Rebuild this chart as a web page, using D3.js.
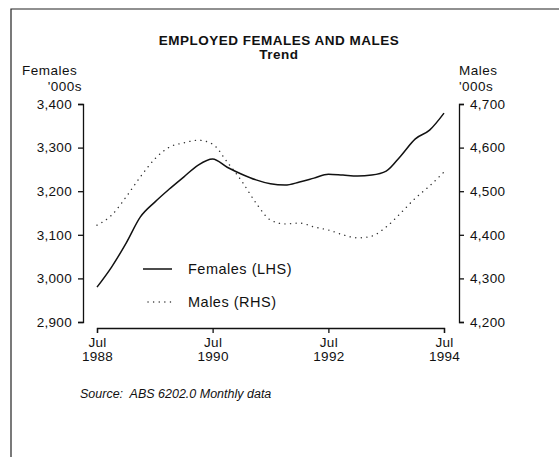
<!DOCTYPE html>
<html>
<head>
<meta charset="utf-8">
<script src="https://cdn.jsdelivr.net/npm/d3@7"></script>
<style>
  body { margin: 0; background: #fff; }
  text { font-family: "Liberation Sans", Arial, sans-serif; fill: #111; }
</style>
</head>
<body>
<svg id="chart" width="559" height="457"></svg>
<script>
// quarterly trend estimates, Jul 1988 .. Jul 1994 ('000s)
var quarters = d3.range(25).map(function(n){ return new Date(1988, 6 + n * 3, 1); });
var females = [2980, 3026, 3081, 3141, 3175, 3205, 3233, 3260, 3274, 3255, 3239, 3226, 3217,
               3214, 3221, 3230, 3239, 3237, 3235, 3237, 3246, 3281, 3320, 3340, 3379];
var males = [4422, 4445, 4487, 4533, 4574, 4601, 4611, 4617, 4608, 4567, 4523, 4473, 4434,
             4425, 4427, 4418, 4411, 4400, 4393, 4397, 4418, 4450, 4484, 4512, 4544];
var leftTicks = [2900, 3000, 3100, 3200, 3300, 3400];
var rightTicks = [4200, 4300, 4400, 4500, 4600, 4700];
var xTicks = [new Date(1988, 6, 1), new Date(1990, 6, 1), new Date(1992, 6, 1), new Date(1994, 6, 1)];

function drawChart() {
    var svg = d3.select("#chart");
    var fmt = d3.format(",");

    var x = d3.scaleTime()
        .domain([xTicks[0], xTicks[3]])
        .range([97, 444]);
    var yL = d3.scaleLinear().domain([2900, 3400]).range([322, 104]);
    var yR = d3.scaleLinear().domain([4200, 4700]).range([322, 104]);

    // scanned frame
    svg.append("path")
        .attr("d", "M11,457 L11,9 L559,9")
        .attr("fill", "none")
        .attr("stroke", "#222")
        .attr("stroke-width", 1.2);

    svg.append("text").attr("x", 279).attr("y", 45)
        .attr("text-anchor", "middle").attr("font-size", 13.5).attr("font-weight", "bold")
        .attr("letter-spacing", 0.5)
        .text("EMPLOYED FEMALES AND MALES");
    svg.append("text").attr("x", 279).attr("y", 59)
        .attr("text-anchor", "middle").attr("font-size", 13.5).attr("font-weight", "bold")
        .attr("letter-spacing", 0.5)
        .text("Trend");

    svg.append("text").attr("x", 22).attr("y", 75).attr("font-size", 13.5).attr("letter-spacing", 0.5).text("Females");
    svg.append("text").attr("x", 82).attr("y", 91).attr("text-anchor", "end").attr("font-size", 13.5).attr("letter-spacing", 0.5).text("'000s");
    svg.append("text").attr("x", 459).attr("y", 75).attr("font-size", 13.5).attr("letter-spacing", 0.5).text("Males");
    svg.append("text").attr("x", 459).attr("y", 91).attr("font-size", 13.5).attr("letter-spacing", 0.5).text("'000s");

    // left axis
    svg.append("g").attr("transform", "translate(83,0)")
        .call(d3.axisLeft(yL).tickValues(leftTicks).tickFormat(fmt).tickSize(5).tickSizeOuter(5).tickPadding(6));
    // right axis
    svg.append("g").attr("transform", "translate(459,0)")
        .call(d3.axisRight(yR).tickValues(rightTicks).tickFormat(fmt).tickSize(5).tickSizeOuter(5).tickPadding(6));
    // bottom axis
    var gx = svg.append("g").attr("transform", "translate(0,328)")
        .call(d3.axisBottom(x).tickValues(xTicks).tickFormat("").tickSize(5).tickSizeOuter(5));

    svg.selectAll(".domain, .tick line").attr("stroke", "#111").attr("stroke-width", 1.3);
    svg.selectAll(".tick text").attr("font-size", 13.5).attr("fill", "#111")
        .attr("letter-spacing", 0.3)
        .style("font-family", "'Liberation Sans', Arial, sans-serif");

    gx.selectAll(".tick").each(function(d){
        var t = d3.select(this).append("text")
            .attr("text-anchor", "middle").attr("font-size", 13.5).attr("fill", "#111")
            .attr("letter-spacing", 0.3);
        t.append("tspan").attr("x", 0).attr("y", 19).text("Jul");
        t.append("tspan").attr("x", 0).attr("y", 33).text(d.getFullYear());
    });

    var fLine = d3.line()
        .x(function(d, i){ return x(quarters[i]); })
        .y(function(d){ return yL(d); })
        .curve(d3.curveMonotoneX);
    var mLine = d3.line()
        .x(function(d, i){ return x(quarters[i]); })
        .y(function(d){ return yR(d); })
        .curve(d3.curveMonotoneX);

    svg.append("path").datum(males)
        .attr("d", mLine)
        .attr("fill", "none")
        .attr("stroke", "#333")
        .attr("stroke-width", 1.4)
        .attr("stroke-linecap", "round")
        .attr("stroke-dasharray", "0.1,5.5");

    svg.append("path").datum(females)
        .attr("d", fLine)
        .attr("fill", "none")
        .attr("stroke", "#111")
        .attr("stroke-width", 1.5);

    // legend
    svg.append("line").attr("x1", 143).attr("x2", 172).attr("y1", 269).attr("y2", 269)
        .attr("stroke", "#111").attr("stroke-width", 1.5);
    svg.append("text").attr("x", 188).attr("y", 274).attr("font-size", 14.5).attr("letter-spacing", 0.5).text("Females (LHS)");
    svg.append("line").attr("x1", 148).attr("x2", 172).attr("y1", 302).attr("y2", 302)
        .attr("stroke", "#333").attr("stroke-width", 1.4).attr("stroke-linecap", "round")
        .attr("stroke-dasharray", "0.1,5.5");
    svg.append("text").attr("x", 188).attr("y", 307).attr("font-size", 14.5).attr("letter-spacing", 0.5).text("Males (RHS)");

    svg.append("text").attr("x", 80).attr("y", 398)
        .attr("font-size", 12.5).attr("font-style", "italic")
        .attr("xml:space", "preserve")
        .text("Source:  ABS 6202.0 Monthly data");
}

drawChart();
</script>
</body>
</html>
